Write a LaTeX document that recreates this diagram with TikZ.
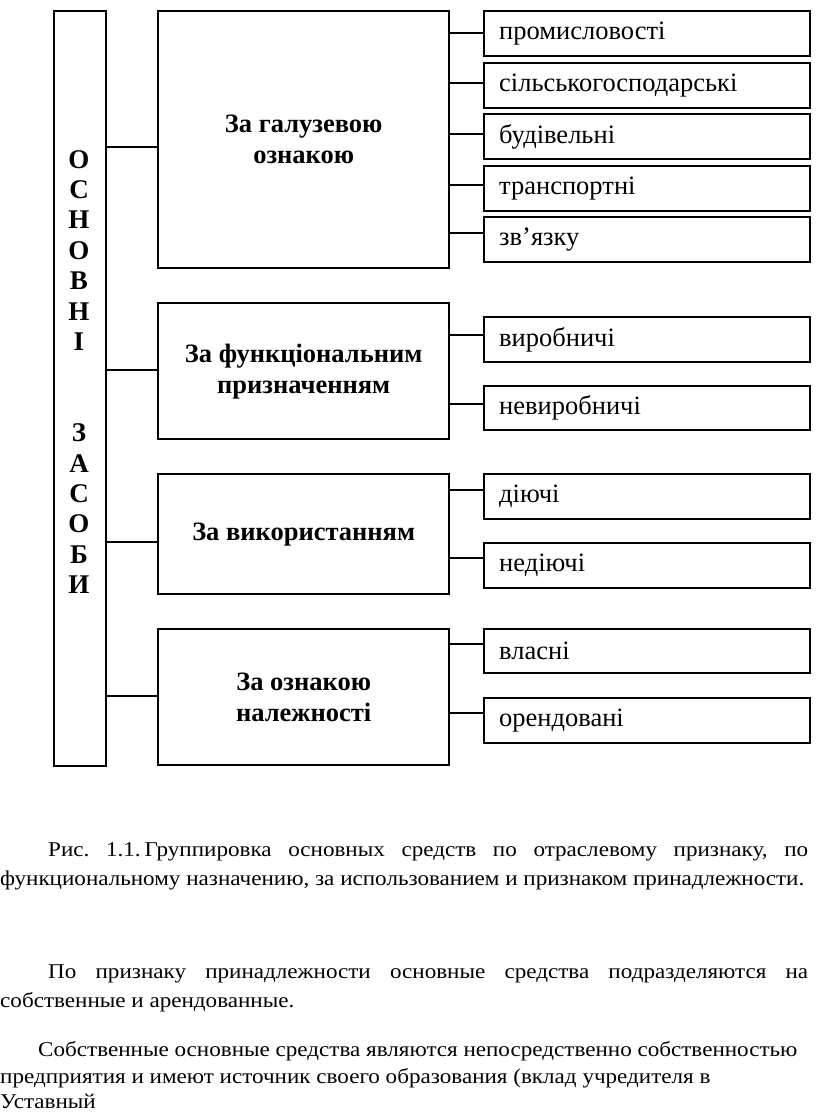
\documentclass[tikz,border=0pt]{standalone}
\usepackage{fontspec}
\setmainfont{Liberation Serif}
\newfontfamily\captfont[FakeStretch=1.1]{Liberation Serif}
\begin{document}
\frenchspacing
\begin{tikzpicture}[x=1pt,y=-1pt,
  box/.style={draw=black, line width=2.4pt, rectangle, inner sep=0pt, anchor=north west},
  grp/.style={box, minimum width=291pt, align=center, font=\bfseries\fontsize{26.5pt}{31pt}\selectfont},
  leaf/.style={box, minimum width=326pt, minimum height=45pt, text width=296pt, inner xsep=15pt, align=left, font=\fontsize{26.5pt}{30pt}\selectfont},
  letter/.style={anchor=base, inner sep=0pt, font=\bfseries\fontsize{27pt}{30pt}\selectfont},
  txt/.style={anchor=base west, inner sep=0pt, font=\captfont\fontsize{21pt}{25pt}\selectfont},
  conn/.style={line width=2.4pt}]
\useasboundingbox (0,0) rectangle (816,1116);
\fill[white] (0,0) rectangle (816,1116);

% left vertical box
\node[box, minimum width=52pt, minimum height=755pt] (osn) at (53,10) {};
\foreach \l/\y [count=\i] in {О/168, С/198.4, Н/228.8, О/259.2, В/289.6, Н/320, І/350.4, З/441.6, А/472, С/502.4, О/532.8, Б/563.2, И/593.6}
  \node[letter] (L\i) at (79,\y) {\l};

% group boxes
\node[grp, minimum height=257pt] (g1) at (157,10) {За галузевою\\ознакою};
\node[grp, minimum height=136pt] (g2) at (157,302) {За функціональним\\призначенням};
\node[grp, minimum height=120pt] (g3) at (157,473) {За використанням};
\node[grp, minimum height=136pt] (g4) at (157,628) {За ознакою\\належності};

% leaf boxes
\node[leaf] (r1) at (483,10) {промисловості};
\node[leaf] (r2) at (483,62) {сільськогосподарські};
\node[leaf] (r3) at (483,113) {будівельні};
\node[leaf] (r4) at (483,165) {транспортні};
\node[leaf] (r5) at (483,216) {зв’язку};
\node[leaf] (r6) at (483,316) {виробничі};
\node[leaf, minimum height=44pt] (r7) at (483,385) {невиробничі};
\node[leaf] (r8) at (483,473) {діючі};
\node[leaf] (r9) at (483,542) {недіючі};
\node[leaf, minimum height=44pt] (r10) at (483,628) {власні};
\node[leaf] (r11) at (483,697) {орендовані};

% connectors: main box to groups
\foreach \g/\y in {g1/147, g2/370, g3/542, g4/696}
  \draw[conn] (osn.east |- 0,\y) -- (\g.west |- 0,\y);

% connectors: groups to leaves
\foreach \g/\r/\y in {g1/r1/33, g1/r2/83, g1/r3/134, g1/r4/185, g1/r5/233,
                      g2/r6/335, g2/r7/404,
                      g3/r8/490, g3/r9/558,
                      g4/r10/644, g4/r11/713}
  \draw[conn] (\g.east |- 0,\y) -- (\r.west |- 0,\y);

% caption and text
\node[txt] (c1) at (48,856) {\makebox[760pt][s]{Рис. 1.1.\kern4pt Группировка основных средств по отраслевому признаку, по}};
\node[txt] (c2) at (0,885) {функциональному назначению, за использованием и признаком принадлежности.};
\node[txt] (p1) at (48,978) {\makebox[760pt][s]{По признаку принадлежности основные средства подразделяются на}};
\node[txt] (p2) at (0,1007) {собственные и арендованные.};
\node[txt] (p3) at (38,1056) {Собственные основные средства являются непосредственно собственностью};
\node[txt] (p4) at (0,1083) {предприятия и имеют источник своего образования (вклад учредителя в};
\node[txt] (p5) at (0,1108) {Уставный};
\end{tikzpicture}
\end{document}
